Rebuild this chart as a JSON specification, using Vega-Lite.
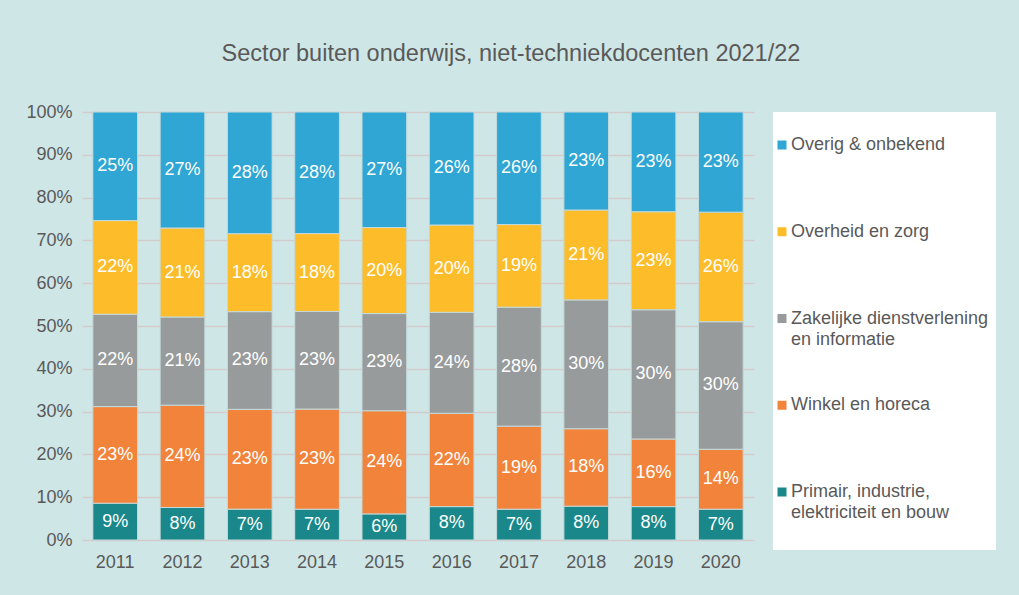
{
  "$schema": "https://vega.github.io/schema/vega-lite/v6.json",
  "width": 672,
  "height": 428,
  "autosize": {"type": "none"},
  "padding": {"left": 82, "top": 112, "right": 265, "bottom": 55},
  "background": "#cfe6e6",
  "title": {
    "text": "Sector buiten onderwijs, niet-techniekdocenten 2021/22",
    "fontSize": 23.5,
    "font": "Liberation Sans",
    "fontWeight": "normal",
    "color": "#595959",
    "anchor": "middle",
    "frame": "bounds",
    "offset": 38
  },
  "config": {
    "view": {"stroke": null},
    "style": {"guide-label": {"lineHeight": 21}}
  },
  "data": {
    "values": [
      {"year": "2011", "sector": "Primair, industrie, elektriciteit en bouw", "v": 0.086},
      {"year": "2011", "sector": "Winkel en horeca", "v": 0.226},
      {"year": "2011", "sector": "Zakelijke dienstverlening en informatie", "v": 0.216},
      {"year": "2011", "sector": "Overheid en zorg", "v": 0.219},
      {"year": "2011", "sector": "Overig & onbekend", "v": 0.254},
      {"year": "2012", "sector": "Primair, industrie, elektriciteit en bouw", "v": 0.076},
      {"year": "2012", "sector": "Winkel en horeca", "v": 0.239},
      {"year": "2012", "sector": "Zakelijke dienstverlening en informatie", "v": 0.206},
      {"year": "2012", "sector": "Overheid en zorg", "v": 0.208},
      {"year": "2012", "sector": "Overig & onbekend", "v": 0.271},
      {"year": "2013", "sector": "Primair, industrie, elektriciteit en bouw", "v": 0.072},
      {"year": "2013", "sector": "Winkel en horeca", "v": 0.233},
      {"year": "2013", "sector": "Zakelijke dienstverlening en informatie", "v": 0.228},
      {"year": "2013", "sector": "Overheid en zorg", "v": 0.182},
      {"year": "2013", "sector": "Overig & onbekend", "v": 0.284},
      {"year": "2014", "sector": "Primair, industrie, elektriciteit en bouw", "v": 0.072},
      {"year": "2014", "sector": "Winkel en horeca", "v": 0.234},
      {"year": "2014", "sector": "Zakelijke dienstverlening en informatie", "v": 0.228},
      {"year": "2014", "sector": "Overheid en zorg", "v": 0.182},
      {"year": "2014", "sector": "Overig & onbekend", "v": 0.284},
      {"year": "2015", "sector": "Primair, industrie, elektriciteit en bouw", "v": 0.061},
      {"year": "2015", "sector": "Winkel en horeca", "v": 0.241},
      {"year": "2015", "sector": "Zakelijke dienstverlening en informatie", "v": 0.227},
      {"year": "2015", "sector": "Overheid en zorg", "v": 0.201},
      {"year": "2015", "sector": "Overig & onbekend", "v": 0.270},
      {"year": "2016", "sector": "Primair, industrie, elektriciteit en bouw", "v": 0.078},
      {"year": "2016", "sector": "Winkel en horeca", "v": 0.218},
      {"year": "2016", "sector": "Zakelijke dienstverlening en informatie", "v": 0.236},
      {"year": "2016", "sector": "Overheid en zorg", "v": 0.204},
      {"year": "2016", "sector": "Overig & onbekend", "v": 0.264},
      {"year": "2017", "sector": "Primair, industrie, elektriciteit en bouw", "v": 0.072},
      {"year": "2017", "sector": "Winkel en horeca", "v": 0.194},
      {"year": "2017", "sector": "Zakelijke dienstverlening en informatie", "v": 0.278},
      {"year": "2017", "sector": "Overheid en zorg", "v": 0.193},
      {"year": "2017", "sector": "Overig & onbekend", "v": 0.263},
      {"year": "2018", "sector": "Primair, industrie, elektriciteit en bouw", "v": 0.079},
      {"year": "2018", "sector": "Winkel en horeca", "v": 0.181},
      {"year": "2018", "sector": "Zakelijke dienstverlening en informatie", "v": 0.301},
      {"year": "2018", "sector": "Overheid en zorg", "v": 0.210},
      {"year": "2018", "sector": "Overig & onbekend", "v": 0.229},
      {"year": "2019", "sector": "Primair, industrie, elektriciteit en bouw", "v": 0.078},
      {"year": "2019", "sector": "Winkel en horeca", "v": 0.158},
      {"year": "2019", "sector": "Zakelijke dienstverlening en informatie", "v": 0.302},
      {"year": "2019", "sector": "Overheid en zorg", "v": 0.229},
      {"year": "2019", "sector": "Overig & onbekend", "v": 0.233},
      {"year": "2020", "sector": "Primair, industrie, elektriciteit en bouw", "v": 0.072},
      {"year": "2020", "sector": "Winkel en horeca", "v": 0.140},
      {"year": "2020", "sector": "Zakelijke dienstverlening en informatie", "v": 0.298},
      {"year": "2020", "sector": "Overheid en zorg", "v": 0.256},
      {"year": "2020", "sector": "Overig & onbekend", "v": 0.234}
    ]
  },
  "transform": [
    {"calculate": "indexof(['Primair, industrie, elektriciteit en bouw','Winkel en horeca','Zakelijke dienstverlening en informatie','Overheid en zorg','Overig & onbekend'], datum.sector)", "as": "ord"},
    {"stack": "v", "groupby": ["year"], "sort": [{"field": "ord", "order": "ascending"}], "as": ["y0", "y1"], "offset": "normalize"},
    {"calculate": "(datum.y0 + datum.y1) / 2", "as": "ym"}
  ],
  "layer": [
    {
      "mark": {"type": "bar", "stroke": "#c4dadc", "strokeWidth": 1},
      "encoding": {
        "x": {
          "field": "year",
          "type": "ordinal",
          "scale": {"paddingInner": 0.336, "paddingOuter": 0.161},
          "axis": {
            "title": null,
            "labelAngle": 0,
            "domain": false,
            "ticks": false,
            "grid": false,
            "labelPadding": 13,
            "labelFontSize": 18,
            "labelFont": "Liberation Sans",
            "labelColor": "#595959"
          }
        },
        "y": {
          "field": "y0",
          "type": "quantitative",
          "scale": {"domain": [0, 1]},
          "axis": {
            "title": null,
            "format": ".0%",
            "values": [0, 0.1, 0.2, 0.3, 0.4, 0.5, 0.6, 0.7, 0.8, 0.9, 1],
            "grid": true,
            "gridColor": "#d3cbcb",
            "gridWidth": 1.5,
            "domain": false,
            "ticks": false,
            "labelPadding": 10,
            "labelFontSize": 18,
            "labelFont": "Liberation Sans",
            "labelColor": "#595959"
          }
        },
        "y2": {"field": "y1"},
        "color": {
          "field": "sector",
          "type": "nominal",
          "scale": {
            "domain": ["Overig & onbekend", "Overheid en zorg", "Zakelijke dienstverlening en informatie", "Winkel en horeca", "Primair, industrie, elektriciteit en bouw"],
            "range": ["#2fa6d3", "#fdbd2a", "#989b9b", "#f2833a", "#1a888a"]
          },
          "legend": {
            "title": " ",
            "titleFontSize": 12,
            "titlePadding": 5,
            "orient": "none",
            "legendX": 691,
            "legendY": 0,
            "fillColor": "white",
            "padding": 7,
            "symbolType": "square",
            "symbolSize": 81,
            "symbolStrokeWidth": 0,
            "symbolOffset": -7,
            "labelFontSize": 18,
            "labelFont": "Liberation Sans",
            "labelColor": "#595959",
            "labelOffset": 0,
            "labelLimit": 400,
            "rowPadding": 26.75,
            "gridAlign": "all",
            "labelExpr": "datum.label == 'Zakelijke dienstverlening en informatie' ? ['Zakelijke dienstverlening', 'en informatie', ''] : datum.label == 'Primair, industrie, elektriciteit en bouw' ? ['Primair, industrie,', 'elektriciteit en bouw', ''] : [datum.label, '', '']"
          }
        }
      }
    },
    {
      "mark": {"type": "text", "color": "white", "fontSize": 18, "font": "Liberation Sans", "baseline": "middle"},
      "encoding": {
        "x": {"field": "year", "type": "ordinal"},
        "y": {"field": "ym", "type": "quantitative"},
        "text": {"field": "v", "format": ".0%"}
      }
    }
  ]
}
